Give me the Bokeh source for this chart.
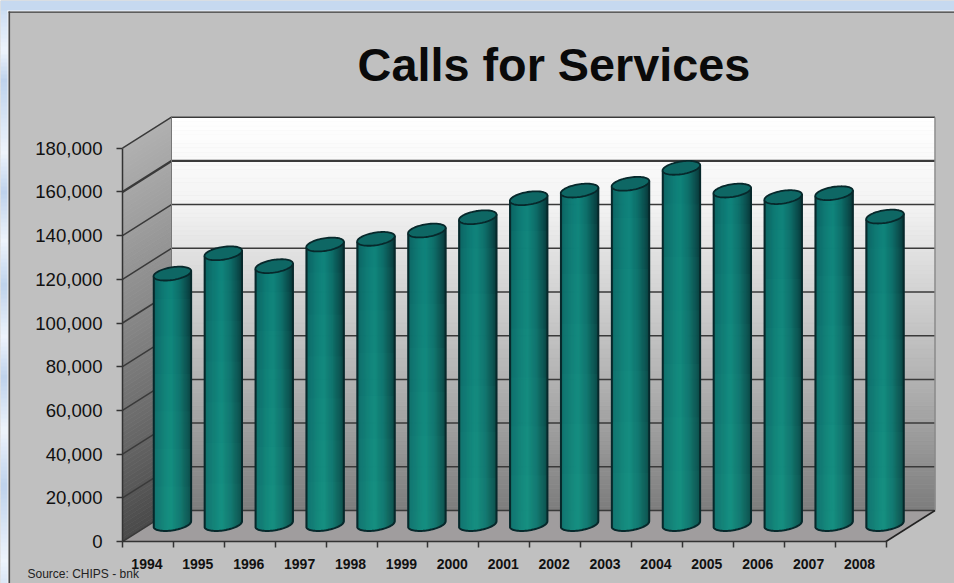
import numpy as np
from bokeh.core.properties import value as fixed
from bokeh.embed import file_html
from bokeh.models import FixedTicker, LinearAxis, NumeralTickFormatter, Range1d
from bokeh.plotting import figure
from bokeh.resources import INLINE

# Annual calls for service
YEARS = ["1994", "1995", "1996", "1997", "1998", "1999", "2000", "2001",
         "2002", "2003", "2004", "2005", "2006", "2007", "2008"]
CALLS = [114600, 123900, 118000, 127900, 130500, 134300, 140400, 149100,
         152600, 155700, 163000, 152600, 149600, 151400, 140700]
Y_TICKS = [0, 20000, 40000, 60000, 80000, 100000, 120000, 140000, 160000, 180000]
TITLE = "Calls for Services"
SOURCE = "Source: CHIPS -  bnk"

# Pixel geometry of the pseudo-3D box; the plot frame fills the whole page
WIDTH, HEIGHT = 954, 583
ORIGIN_X, ORIGIN_Y = 122, 541
PX_PER_SLOT = 50.9
PX_PER_UNIT = (541 - 147.7) / 180000
DEPTH_X = 49 / PX_PER_SLOT
DEPTH_Y = 31 / PX_PER_UNIT
BAR_SHIFT_X = 24.4 / PX_PER_SLOT
BAR_SHIFT_Y = 17.5 / PX_PER_UNIT
N = len(YEARS)
Y_MAX = Y_TICKS[-1]


def page_x(px):
    return (np.asarray(px, dtype=float) - ORIGIN_X) / PX_PER_SLOT


def page_y(py):
    return (ORIGIN_Y - np.asarray(py, dtype=float)) / PX_PER_UNIT


def hex_color(r, g, b):
    return "#%02x%02x%02x" % (int(round(r)), int(round(g)), int(round(b)))


def ramp(t, stops, colors):
    c = np.array(colors, dtype=float)
    return hex_color(*[np.interp(t, stops, c[:, k]) for k in range(3)])


p = figure(width=WIDTH, height=HEIGHT, output_backend="svg", toolbar_location=None,
           x_range=Range1d(float(page_x(0)), float(page_x(WIDTH))),
           y_range=Range1d(float(page_y(HEIGHT)), float(page_y(0))),
           min_border=0, x_axis_location=None, y_axis_location=None,
           background_fill_color="#c0c0c0", border_fill_color="#c0c0c0")
p.grid.visible = False
p.outline_line_color = None


def page_box(left, right, top, bottom, color):
    p.quad(left=page_x(left), right=page_x(right), top=page_y(top), bottom=page_y(bottom),
           fill_color=color, line_color=None)


# Window strip along the top and left of the slide panel
page_box(0, WIDTH, 0, 10.5, "#c6d9f0")
strip_stops = [0, 48, 78, 150, 190, 238, 283, 335, 375, 428, 483, 558, 583]
light, blue = (0xee, 0xf4, 0xfc), (0xbe, 0xd2, 0xec)
strip_cols = [(0xc6, 0xd9, 0xf0), light, blue, light, blue, light, blue, light, blue, light,
              blue, light, (0xd8, 0xe5, 0xf5)]
strip_top = np.arange(10, HEIGHT, 4)
for sy in strip_top:
    page_box(0, 7.5, sy, sy + 4.5, ramp(sy, strip_stops, strip_cols))
page_box(7, WIDTH, 10, 11.2, "#f4f6fa")
page_box(7, 8.2, 10, HEIGHT, "#f4f6fa")
page_box(8, WIDTH, 11, 12.3, "#3c3c3c")
page_box(8, 9.6, 11, HEIGHT, "#4a4a4a")

# Back wall and side wall, shaded in thin horizontal bands
wall_stops = [0, 50000, 100000, 140000, 180000]
back_cols = [(0x7c, 0x7c, 0x7c), (0xaa, 0xaa, 0xaa), (0xd2, 0xd2, 0xd2), (0xf4, 0xf4, 0xf4), (0xff, 0xff, 0xff)]
side_cols = [(0x4a, 0x4a, 0x4a), (0x6a, 0x6a, 0x6a), (0x88, 0x88, 0x88), (0x9e, 0x9e, 0x9e), (0xb0, 0xb0, 0xb0)]
edges = np.arange(0, Y_MAX + 1, 2000)
lo, hi = edges[:-1], edges[1:]
mid = (lo + hi) / 2
p.quad(left=DEPTH_X, right=DEPTH_X + N, bottom=lo + DEPTH_Y, top=hi + DEPTH_Y,
       fill_color=[ramp(m, wall_stops, back_cols) for m in mid],
       line_color=[ramp(m, wall_stops, back_cols) for m in mid], line_width=0.6)
p.patches(xs=[[0, DEPTH_X, DEPTH_X, 0] for _ in mid],
          ys=[[a, a + DEPTH_Y, b + DEPTH_Y, b] for a, b in zip(lo, hi)],
          fill_color=[ramp(m, wall_stops, side_cols) for m in mid],
          line_color=[ramp(m, wall_stops, side_cols) for m in mid], line_width=0.6)

# Floor
p.patch(x=[0, N, N + DEPTH_X, DEPTH_X], y=[0, 0, DEPTH_Y, DEPTH_Y],
        fill_color="#a09d9e", line_color="#a09d9e")

# Gridlines on the back and side walls
for t in Y_TICKS:
    w = 2.4 if t == 160000 else 1.5
    p.line([0, DEPTH_X, DEPTH_X + N], [t, t + DEPTH_Y, t + DEPTH_Y], line_color="#3a3a3a", line_width=w)
p.line([DEPTH_X, DEPTH_X], [DEPTH_Y, Y_MAX + DEPTH_Y], line_color="#777777", line_width=1)
p.line([DEPTH_X + N, DEPTH_X + N], [DEPTH_Y, Y_MAX + DEPTH_Y], line_color="#8a8a8a", line_width=1.5)
p.line([N, N + DEPTH_X], [0, DEPTH_Y], line_color="#222222", line_width=1.5)

# Cylinders: shaded body strips, glow towards the base, outline, then the elliptical cap
A, B, TILT = 19.0, 6.3, 0.16
t_arc = np.linspace(0, 2 * np.pi, 73)
ell_x = A * np.cos(t_arc) * np.cos(TILT) - B * np.sin(t_arc) * np.sin(TILT)
ell_y = A * np.cos(t_arc) * np.sin(TILT) + B * np.sin(t_arc) * np.cos(TILT)
low = t_arc > np.pi
order = np.argsort(ell_x[low])
low_x, low_y = ell_x[low][order], ell_y[low][order]
x0, x1 = low_x[0], low_x[-1]
slope = np.tan(TILT)

shade_stops = [0, 0.06, 0.3, 0.48, 0.7, 0.9, 1]
shade_cols = [(0x0a, 0x44, 0x46), (0x0d, 0x68, 0x66), (0x0f, 0x7c, 0x76), (0x10, 0x84, 0x7c),
              (0x0e, 0x6e, 0x69), (0x0b, 0x4c, 0x4c), (0x08, 0x38, 0x3a)]
n_strips = 38
strip_edges = np.linspace(x0, x1, n_strips + 1)

sx, sy, sc = [], [], []
gx, gy = [], []
out_x, out_y, cap_x, cap_y = [], [], [], []
for i, calls in enumerate(CALLS):
    cx = i + 0.5 + BAR_SHIFT_X

    def to_x(px):
        return cx + np.asarray(px) / PX_PER_SLOT

    def base_y(px):
        return BAR_SHIFT_Y + np.asarray(px) / PX_PER_UNIT

    def top_y(px):
        return BAR_SHIFT_Y + calls + np.asarray(px) / PX_PER_UNIT

    for k in range(n_strips):
        a, b = strip_edges[k], strip_edges[k + 1]
        sx.append(list(to_x([a, b, b, a])))
        sy.append([float(base_y(np.interp(a, low_x, low_y))), float(base_y(np.interp(b, low_x, low_y))),
                   float(top_y(b * slope)), float(top_y(a * slope))])
        sc.append(ramp((k + 0.5) / n_strips, shade_stops, shade_cols))
    for level in np.linspace(0.15, 0.9, 6):
        gx.append(list(to_x(low_x)) + list(to_x([x1, x0])))
        gy.append(list(base_y(low_y)) + [float(base_y(0)) + level * calls] * 2)
    out_x.append(list(to_x([x0])) + list(to_x(low_x)) + list(to_x([x1])))
    out_y.append([float(top_y(x0 * slope))] + list(base_y(low_y)) + [float(top_y(x1 * slope))])
    cap_x.append(list(to_x(ell_x)))
    cap_y.append(list(top_y(ell_y)))

p.patches(xs=sx, ys=sy, fill_color=sc, line_color=sc, line_width=1)
p.patches(xs=gx, ys=gy, fill_color="#30c8b8", fill_alpha=0.035, line_color=None)
p.multi_line(xs=out_x, ys=out_y, line_color="#07282b", line_width=2)
p.patches(xs=cap_x, ys=cap_y, fill_color="#0e6764", line_color="#07282b", line_width=1.8)

# Axes: value labels on ticks, year labels between the tick marks
yaxis = LinearAxis(ticker=FixedTicker(ticks=Y_TICKS), formatter=NumeralTickFormatter(format="0,0"),
                   fixed_location=0, bounds=(0, Y_MAX), major_tick_in=0, major_tick_out=6,
                   minor_tick_line_color=None, major_tick_line_color="#333333",
                   major_tick_line_width=1.5, axis_line_color="#333333", axis_line_width=1.5,
                   major_label_standoff=14, major_label_text_font="Liberation Sans",
                   major_label_text_font_size="18.6px", major_label_text_color="#111111")
p.add_layout(yaxis, "left")

centers = [i + 0.48 for i in range(N)]
xaxis = LinearAxis(ticker=FixedTicker(ticks=centers, minor_ticks=list(range(N + 1))),
                   major_label_overrides={c: y for c, y in zip(centers, YEARS)},
                   fixed_location=0, bounds=(0, N), major_tick_line_color=None,
                   minor_tick_in=0, minor_tick_out=6, minor_tick_line_color="#333333",
                   minor_tick_line_width=1.5, axis_line_color="#333333", axis_line_width=1.5,
                   major_label_standoff=11, major_label_text_font="Liberation Sans",
                   major_label_text_font_style="bold", major_label_text_font_size="14px",
                   major_label_text_color="#111111")
p.add_layout(xaxis, "below")

p.text(x=[float(page_x(553.5))], y=[float(page_y(64))], text=[TITLE], text_align="center",
       text_baseline="middle", text_font=fixed("Liberation Sans"), text_font_style="bold",
       text_font_size="46.8px", text_color="#0a0a0a")
p.text(x=[float(page_x(27))], y=[float(page_y(573))], text=[SOURCE], text_align="left",
       text_baseline="middle", text_font=fixed("Liberation Sans"), text_font_size="12px",
       text_color="#222222")

open("out.html", "w").write(file_html(p, INLINE))
